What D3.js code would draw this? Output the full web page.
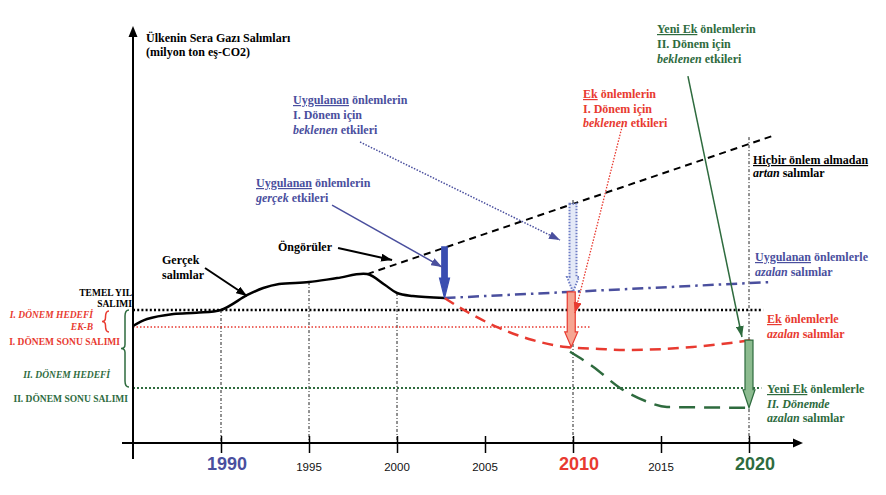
<!DOCTYPE html>
<html><head><meta charset="utf-8">
<script src="https://cdn.jsdelivr.net/npm/d3@7"></script>
<style>body{margin:0;background:#fff}</style>
</head><body>
<svg id="c" width="886" height="495"></svg>
<script>
// ---------- data ----------
const tickYears = [1990, 1995, 2000, 2005, 2010, 2015, 2020];
const tickLabels = ["1990", "1995", "2000", "2005", "2010", "2015", "2020"];

const actualYears  = [1985, 1985.8, 1987.3, 1988.6, 1990, 1991.5, 1992.4, 1993.3, 1995, 1996.6, 1998.3, 1999.3, 2000, 2000.9, 2002.7];
const actualValues = [88, 93.2, 97, 98, 100, 111.3, 116.5, 119.5, 121, 124, 127, 119, 112.8, 110.5, 109];

const noMeasureYears  = [1998.3, 2021.5];
const noMeasureValues = [127, 231.6];

const measuresYears  = [2002.7, 2021.2];
const measuresValues = [109, 121];

const additionalYears  = [2002.7, 2004.0, 2005.8, 2007.7, 2009.6, 2011.5, 2013.05, 2016.8, 2020.2];
const additionalValues = [109, 98.5, 86.5, 77.4, 72.2, 70.7, 69.9, 72.2, 77.4];

const newAdditionalYears  = [2009.83, 2011.14, 2012.67, 2014.2, 2015.34, 2020.23];
const newAdditionalValues = [68.6, 57.4, 41.4, 31.1, 27.1, 26.5];

const baseYearLevel = 100;     // TEMEL YIL SALIMI
const ekBLevel = 87.2;         // I. DÖNEM HEDEFİ EK-B
const period2Target = 41.4;    // II. DÖNEM HEDEFİ

const guideYears = [1990, 1995, 2000, 2010, 2020];
const guideTops  = [100, 121, 112.8, 182.7, 230];

const blockArrowYears = [2002.7, 2010, 2009.9, 2020];
const blockArrowFrom  = [147.4, 179.8, 113.6, 77.4];
const blockArrowTo    = [109, 113.6, 72.2, 26.5];

// ---------- setup ----------
const svg = d3.select("#c");
const x = d3.scaleLinear().domain([1985, 2020]).range([133, 749]);
const y = d3.scaleLinear().domain([0, 100]).range([443, 310]);
const SERIF = "'Liberation Serif','Times New Roman',serif";
const SANS = "'Liberation Sans',Arial,sans-serif";
const BLUE = "#4a4f9e", RED = "#e83a30", GREEN = "#2e6b3e", DBLUE = "#3a4db0";

const defs = svg.append("defs");
function marker(id, color) {
  defs.append("marker").attr("id", id).attr("markerUnits", "userSpaceOnUse")
    .attr("markerWidth", 11).attr("markerHeight", 8).attr("refX", 11).attr("refY", 4)
    .attr("orient", "auto")
    .append("path").attr("d", "M0,0 L11,4 L0,8 z").attr("fill", color);
}
marker("mk", "#000"); marker("mb", BLUE); marker("mr", RED); marker("mg", GREEN);

const line = d3.line().x(d => x(d[0])).y(d => y(d[1]));
const curve = d3.line().x(d => x(d[0])).y(d => y(d[1])).curve(d3.curveMonotoneX);
const smooth = d3.line().x(d => x(d[0])).y(d => y(d[1])).curve(d3.curveCatmullRom.alpha(0.5));
const zip = (a, b) => a.map((v, i) => [v, b[i]]);

// guide verticals
guideYears.forEach((yr, i) => {
  svg.append("line").attr("x1", x(yr)).attr("x2", x(yr)).attr("y1", y(guideTops[i])).attr("y2", y(0))
    .attr("stroke", "#222").attr("stroke-width", 1).attr("stroke-dasharray", "3,2,1,2");
});

// horizontal levels
svg.append("path").attr("d", line([[1985, baseYearLevel], [2020.8, baseYearLevel]]))
  .attr("stroke", "#000").attr("stroke-width", 2.5).attr("stroke-dasharray", "2,2.2").attr("fill", "none");
svg.append("path").attr("d", line([[1985, ekBLevel], [2011, ekBLevel]]))
  .attr("stroke", RED).attr("stroke-width", 1.5).attr("stroke-dasharray", "1.5,2").attr("fill", "none");
svg.append("path").attr("d", line([[1985, period2Target], [2020.7, period2Target]]))
  .attr("stroke", GREEN).attr("stroke-width", 2).attr("stroke-dasharray", "2,2").attr("fill", "none");

// axes
const xAxis = d3.axisBottom(x).tickValues(tickYears).tickSize(10).tickFormat("");
const gx = svg.append("g").attr("transform", `translate(0,${y(0)})`).call(xAxis);
gx.select(".domain").remove();
gx.selectAll(".tick line").attr("y1", -7).attr("y2", 10).attr("stroke", "#000").attr("stroke-width", 1.5);
svg.append("line").attr("x1", 122).attr("x2", 796).attr("y1", y(0)).attr("y2", y(0)).attr("stroke", "#000").attr("stroke-width", 2);
svg.append("path").attr("d", `M803,${y(0)} L793,${y(0) - 4.5} L793,${y(0) + 4.5} z`).attr("fill", "#000");
svg.append("line").attr("x1", x(1985)).attr("x2", x(1985)).attr("y1", 459).attr("y2", 34).attr("stroke", "#000").attr("stroke-width", 2);
svg.append("path").attr("d", `M${x(1985)},26 L${x(1985) - 4.5},37 L${x(1985) + 4.5},37 z`).attr("fill", "#000");

const tickStyle = {
  "1990": {c: BLUE, s: 18, b: true}, "2010": {c: RED, s: 18, b: true}, "2020": {c: GREEN, s: 18, b: true}
};
tickYears.forEach((yr, i) => {
  const st = tickStyle[tickLabels[i]];
  svg.append("text").attr("x", x(yr) + (st ? 6 : 0)).attr("y", st ? 470 : 471)
    .attr("text-anchor", "middle").attr("font-family", SANS)
    .attr("font-size", st ? st.s : 11.5).attr("font-weight", st ? "bold" : "normal")
    .attr("fill", st ? st.c : "#111").text(tickLabels[i]);
});

// series
svg.append("path").attr("d", line(zip(noMeasureYears, noMeasureValues)))
  .attr("stroke", "#000").attr("stroke-width", 2).attr("stroke-dasharray", "7,5").attr("fill", "none");
svg.append("path").attr("d", line(zip(measuresYears, measuresValues)))
  .attr("stroke", BLUE).attr("stroke-width", 2.5).attr("stroke-dasharray", "11,5,2.5,5").attr("fill", "none");
svg.append("path").attr("d", curve(zip(additionalYears, additionalValues)))
  .attr("stroke", RED).attr("stroke-width", 2.5).attr("stroke-dasharray", "11,7").attr("fill", "none");
svg.append("path").attr("d", curve(zip(newAdditionalYears, newAdditionalValues)))
  .attr("stroke", GREEN).attr("stroke-width", 2.5).attr("stroke-dasharray", "16,9").attr("fill", "none");
svg.append("path").attr("d", smooth(zip(actualYears, actualValues)))
  .attr("stroke", "#000").attr("stroke-width", 2.5).attr("fill", "none");

// block arrows
const blockStyles = [
  {fill: DBLUE, stroke: DBLUE, w: 5.5, hw: 10, hl: 20, dash: null},
  {fill: "#e4e9f7", stroke: "#6d7cc4", w: 7, hw: 12, hl: 15, dash: "1.5,1.5"},
  {fill: "#f6a592", stroke: RED, w: 8, hw: 13, hl: 15, dash: null},
  {fill: "#8cbb8f", stroke: GREEN, w: 8, hw: 12, hl: 18, dash: null}
];
blockArrowYears.forEach((yr, i) => {
  const s = blockStyles[i], cx = x(yr), y0 = y(blockArrowFrom[i]), y1 = y(blockArrowTo[i]);
  const p = [[cx - s.w / 2, y0], [cx + s.w / 2, y0], [cx + s.w / 2, y1 - s.hl], [cx + s.hw / 2, y1 - s.hl],
             [cx, y1], [cx - s.hw / 2, y1 - s.hl], [cx - s.w / 2, y1 - s.hl]];
  svg.append("path").attr("d", "M" + p.join("L") + "Z").attr("fill", s.fill).attr("stroke", s.stroke)
    .attr("stroke-width", s.dash ? 2 : 1.2).attr("stroke-dasharray", s.dash);
});

// pointer arrows (data coordinates)
const pointers = [
  {a: [1989.09, 131.6], b: [1991.48, 110.5], c: "#000", m: "mk", w: 2, d: null},
  {a: [1996.65, 146.6], b: [1999.72, 137.6], c: "#000", m: "mk", w: 2, d: null},
  {a: [1996.31, 178.9], b: [2002.56, 132.3], c: BLUE, m: "mb", w: 1.5, d: null},
  {a: [1997.9, 226.3], b: [2009.26, 152.6], c: BLUE, m: "mb", w: 1.5, d: "1.5,1.5"},
  {a: [2012.84, 240.6], b: [2010.11, 97.7], c: RED, m: "mr", w: 1.3, d: "1.5,1.5"},
  {a: [2016.53, 275.9], b: [2019.6, 79.7], c: GREEN, m: "mg", w: 1.5, d: null}
];
pointers.forEach(p => {
  svg.append("path").attr("d", line([p.a, p.b])).attr("stroke", p.c).attr("stroke-width", p.w)
    .attr("stroke-dasharray", p.d).attr("fill", "none").attr("marker-end", `url(#${p.m})`);
});

// braces
function brace(xTip, xEnd, yTop, yBot, color) {
  const ym = (yTop + yBot) / 2, xm = (xTip + xEnd) / 2;
  const d = `M${xEnd},${yTop} Q${xm},${yTop} ${xm},${yTop + 6} L${xm},${ym - 4} Q${xm},${ym} ${xTip},${ym}` +
            ` Q${xm},${ym} ${xm},${ym + 4} L${xm},${yBot - 6} Q${xm},${yBot} ${xEnd},${yBot}`;
  svg.append("path").attr("d", d).attr("stroke", color).attr("stroke-width", 1.5).attr("fill", "none");
}
brace(102, 109, y(baseYearLevel) + 1, y(ekBLevel) + 5, RED);
brace(121, 129, y(baseYearLevel), y(period2Target) - 1, GREEN);

// text annotations
function label(xp, yp, lines, opt) {
  const t = svg.append("text").attr("x", xp).attr("y", yp).attr("font-family", SERIF)
    .attr("font-size", opt.size || 12).attr("font-weight", "bold").attr("fill", opt.color)
    .attr("text-anchor", opt.anchor || "start");
  lines.forEach((ln, i) => {
    ln.forEach((seg, j) => {
      const ts = t.append("tspan").text(seg[0]);
      if (j === 0) ts.attr("x", xp).attr("dy", i === 0 ? 0 : (opt.lh || 15));
      const f = seg[1] || "";
      if (f.includes("u")) ts.attr("text-decoration", "underline");
      if (f.includes("i")) ts.attr("font-style", "italic");
    });
  });
}
label(146, 42, [[["Ülkenin Sera Gazı Salımları"]], [["(milyon ton eş-CO2)"]]], {color: "#000", lh: 14});
label(293, 104, [[["Uygulanan", "u"], [" önlemlerin"]], [["I. Dönem için"]], [["beklenen", "i"], [" etkileri"]]], {color: BLUE});
label(256, 187, [[["Uygulanan", "u"], [" önlemlerin"]], [["gerçek", "i"], [" etkileri"]]], {color: BLUE});
label(583, 98, [[["Ek", "u"], [" önlemlerin"]], [["I. Dönem için"]], [["beklenen", "i"], [" etkileri"]]], {color: RED, lh: 14.5});
label(657, 33, [[["Yeni Ek", "u"], [" önlemlerin"]], [["II. Dönem için"]], [["beklenen", "i"], [" etkileri"]]], {color: GREEN, lh: 15});
label(753, 164, [[["Hiçbir önlem almadan", "u"]], [["artan", "i"], [" salımlar"]]], {color: "#000", lh: 13});
label(755, 261, [[["Uygulanan", "u"], [" önlemlerle"]], [["azalan", "i"], [" salımlar"]]], {color: BLUE});
label(767, 323, [[["Ek", "u"], [" önlemlerle"]], [["azalan", "i"], [" salımlar"]]], {color: RED, lh: 14.5});
label(767, 393, [[["Yeni Ek", "u"], [" önlemlerle"]], [["II. Dönemde", "i"]], [["azalan", "i"], [" salımlar"]]], {color: GREEN, lh: 14.5});
label(162, 264, [[["Gerçek"]], [["salımlar"]]], {color: "#000", lh: 15});
label(278, 251, [[["Öngörüler"]]], {color: "#000"});

// left side labels
label(132, 296, [[["TEMEL YIL"]], [["SALIMI"]]], {color: "#000", anchor: "end", size: 9.5, lh: 11});
label(93, 318, [[["I. DÖNEM HEDEFİ", "i"]]], {color: RED, anchor: "end", size: 9.5});
label(93, 330, [[["EK-B", "i"]]], {color: RED, anchor: "end", size: 9.5});
label(120, 345, [[["I. DÖNEM SONU SALIMI"]]], {color: RED, anchor: "end", size: 9.5});
label(110, 378, [[["II. DÖNEM HEDEFİ", "i"]]], {color: GREEN, anchor: "end", size: 9.5});
label(128, 402, [[["II. DÖNEM SONU SALIMI"]]], {color: GREEN, anchor: "end", size: 9.5});
</script>
</body></html>
